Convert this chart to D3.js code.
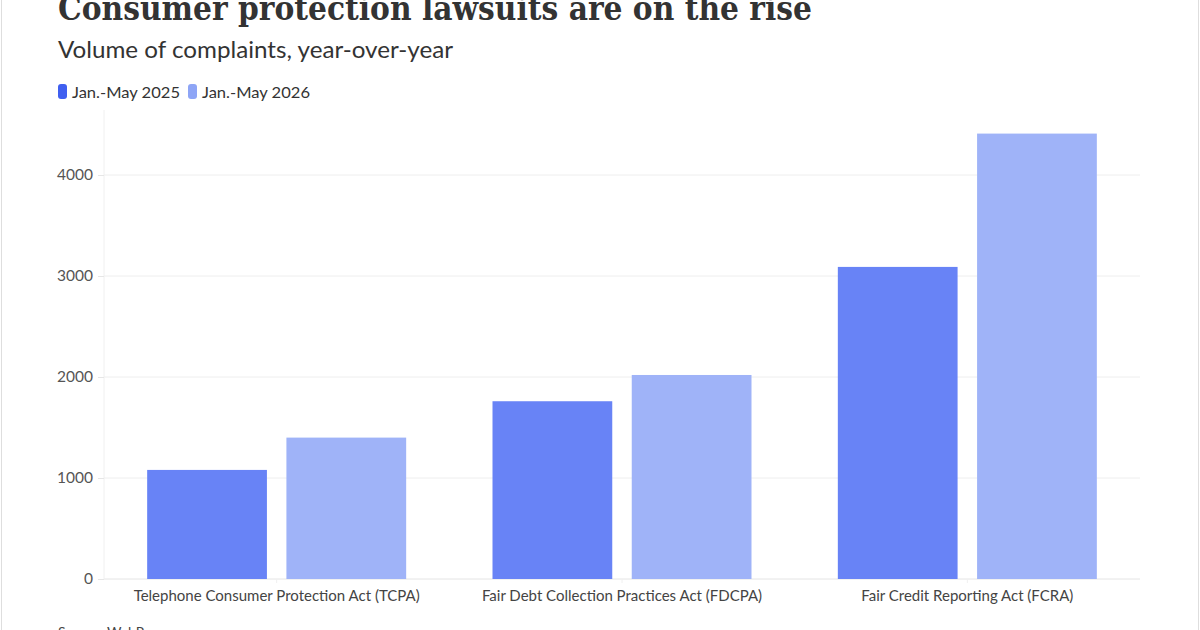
<!DOCTYPE html>
<html>
<head>
<meta charset="utf-8">
<script src="https://cdn.jsdelivr.net/npm/d3@7"></script>
<style>
  body { margin: 0; background: #fff; }
  svg { display: block; }
  .tick text { font-family: Lato, sans-serif; }
</style>
</head>
<body>
<svg id="chart" width="1200" height="630"></svg>
<script>
// data
const categories = [
  "Telephone Consumer Protection Act (TCPA)",
  "Fair Debt Collection Practices Act (FDCPA)",
  "Fair Credit Reporting Act (FCRA)"
]
const series = ["Jan.-May 2025", "Jan.-May 2026"]
const values_2025 = [1080, 1760, 3090]
const values_2026 = [1400, 2020, 4410]
const y_ticks = [0, 1000, 2000, 3000, 4000]

const bar_colors = ["#6883f6", "#9fb3f8"]
const swatch_colors = ["#3f5ff0", "#8ea5f6"]

const svg = d3.select("#chart")
const W = 1200, H = 630
const margin = { left: 104, right: 60, top: 120, bottom: 51 }

// frame
svg.append("rect")
  .attr("x", 1.5).attr("y", -2).attr("width", W - 3).attr("height", H + 4)
  .attr("fill", "#fff").attr("stroke", "#dedede")

// scales
const x0 = d3.scaleBand()
  .domain(categories)
  .range([margin.left, 1140])
  .paddingInner(0.25)
  .paddingOuter(0.125)
const x1 = d3.scaleBand()
  .domain(series)
  .range([0, x0.bandwidth()])
  .paddingInner(0.14)
const y = d3.scaleLinear()
  .domain([0, 4500])
  .range([H - margin.bottom, H - margin.bottom - 4500 * 0.101])

// gridlines
svg.append("g")
  .selectAll("line")
  .data(y_ticks).enter()
  .append("line")
  .attr("x1", margin.left).attr("x2", 1140)
  .attr("y1", d => y(d)).attr("y2", d => y(d))
  .attr("stroke", d => d === 0 ? "#e4e4e4" : "#eeeeee")
  .attr("stroke-width", 1)

svg.append("line")
  .attr("x1", margin.left).attr("x2", margin.left)
  .attr("y1", y(0)).attr("y2", 110)
  .attr("stroke", "#f0f0f0")

// y axis
const y_axis = svg.append("g")
  .attr("transform", `translate(${margin.left},0)`)
  .call(d3.axisLeft(y).tickValues(y_ticks).tickSize(6).tickPadding(5).tickFormat(d3.format("d")))
y_axis.select(".domain").remove()
y_axis.selectAll(".tick line").attr("stroke", "#e6e6e6")
y_axis.selectAll(".tick text").attr("fill", "#555").attr("font-size", 15.5)

// bars
const rows = categories.map((c, i) => ({ category: c, vals: [values_2025[i], values_2026[i]] }))
svg.append("g")
  .selectAll("g")
  .data(rows).enter()
  .append("g")
  .attr("transform", d => `translate(${x0(d.category)},0)`)
  .selectAll("rect")
  .data(d => d.vals.map((v, j) => ({ key: series[j], v, j }))).enter()
  .append("rect")
  .attr("x", d => x1(d.key))
  .attr("y", d => y(d.v))
  .attr("width", x1.bandwidth())
  .attr("height", d => y(0) - y(d.v))
  .attr("fill", d => bar_colors[d.j])

// x axis
const x_axis = svg.append("g")
  .attr("transform", `translate(0,${y(0)})`)
  .call(d3.axisBottom(x0).tickSize(4).tickPadding(5))
x_axis.select(".domain").remove()
x_axis.selectAll(".tick line").attr("stroke", "#f0f0f0")
x_axis.selectAll(".tick text").attr("fill", "#444").attr("font-size", 15).attr("dy", "0.85em")

// title, subtitle
svg.append("text")
  .attr("x", 58).attr("y", 20)
  .attr("font-family", "'DejaVu Serif', serif")
  .attr("font-weight", "bold")
  .attr("font-size", 33)
  .attr("fill", "#333")
  .attr("textLength", 754)
  .attr("lengthAdjust", "spacingAndGlyphs")
  .text("Consumer protection lawsuits are on the rise")

svg.append("text")
  .attr("x", 58).attr("y", 58)
  .attr("font-family", "Lato, sans-serif")
  .attr("font-size", 23)
  .attr("fill", "#333")
  .attr("textLength", 395)
  .attr("lengthAdjust", "spacingAndGlyphs")
  .text("Volume of complaints, year-over-year")

// legend
const legend_x = [58, 188]
const legend = svg.append("g")
  .selectAll("g")
  .data(series).enter()
  .append("g")
  .attr("transform", (d, i) => `translate(${legend_x[i]},84)`)
legend.append("rect")
  .attr("width", 9).attr("height", 15).attr("rx", 3)
  .attr("fill", (d, i) => swatch_colors[i])
legend.append("text")
  .attr("x", 14).attr("y", 14)
  .attr("font-family", "Lato, sans-serif")
  .attr("font-size", 16)
  .attr("fill", "#333")
  .attr("textLength", 108)
  .attr("lengthAdjust", "spacingAndGlyphs")
  .text(d => d)

// source
svg.append("text")
  .attr("x", 58).attr("y", 637)
  .attr("font-family", "Lato, sans-serif")
  .attr("font-size", 14)
  .attr("fill", "#444")
  .text("Source: WebRecon")
</script>
</body>
</html>
